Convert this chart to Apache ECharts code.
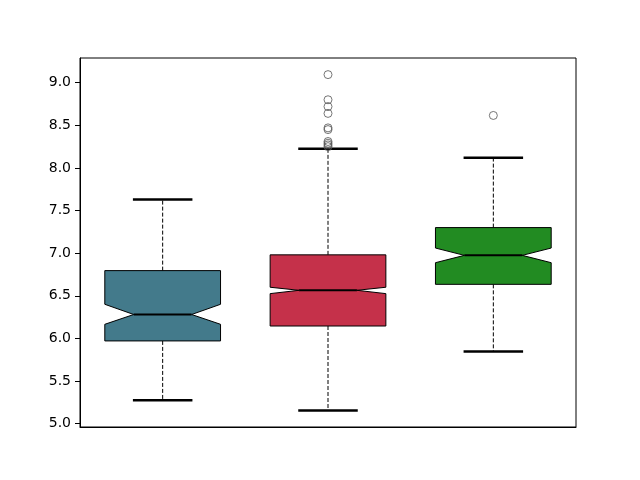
<!DOCTYPE html>
<html>
<head>
<meta charset="utf-8">
<script src="https://cdn.jsdelivr.net/npm/echarts@6/dist/echarts.min.js"></script>
<style>
  html, body { margin: 0; padding: 0; background: #fff; }
  #chart { width: 640px; height: 480px; }
</style>
</head>
<body>
<div id="chart"></div>
<script>
// three groups, no tick labels on x
const categories = ['1', '2', '3'];
const whiskerLow = [5.273, 5.153, 5.847];
const q1 = [5.97, 6.145, 6.634];
const notchLow = [6.165, 6.525, 6.888];
const medians = [6.28, 6.564, 6.974];
const notchHigh = [6.40, 6.60, 7.06];
const q3 = [6.795, 6.98, 7.30];
const whiskerHigh = [7.63, 8.225, 8.12];
const outliers = [
  [],
  [9.095, 8.80, 8.72, 8.64, 8.47, 8.45, 8.31, 8.29, 8.27, 8.25],
  [8.616]
];
const yTicks = [5.0, 5.5, 6.0, 6.5, 7.0, 7.5, 8.0, 8.5, 9.0];
const boxColors = ['#437a8b', '#c5314a', '#228b22'];

const boxData = categories.map((c, i) => [
  i, whiskerLow[i], q1[i], notchLow[i], medians[i], notchHigh[i], q3[i], whiskerHigh[i]
]);
const outlierData = [];
outliers.forEach((vals, i) => vals.forEach(v => outlierData.push([i, v])));

const chart = echarts.init(document.getElementById('chart'));

function renderBox(params, api) {
  const idx = api.value(0);
  const y = v => api.coord([idx, v])[1];
  const cx = api.coord([idx, api.value(4)])[0];
  const band = api.size([1, 0])[0];
  const hw = band * 0.35;   // half box width
  const nw = band * 0.175;  // half width at the notch
  const cw = band * 0.18;   // half cap width
  const yMin = y(api.value(1)), yQ1 = y(api.value(2)), yNl = y(api.value(3));
  const yMed = y(api.value(4)), yNh = y(api.value(5)), yQ3 = y(api.value(6));
  const yMax = y(api.value(7));
  const L = cx - hw, R = cx + hw;
  const dash = { stroke: '#000', lineWidth: 1, lineDash: [4, 2] };
  const solid = w => ({ stroke: '#000', lineWidth: w });
  return {
    type: 'group',
    children: [
      { type: 'line', shape: { x1: cx, y1: yQ3, x2: cx, y2: yMax }, style: dash },
      { type: 'line', shape: { x1: cx, y1: yQ1, x2: cx, y2: yMin }, style: dash },
      { type: 'line', shape: { x1: cx - cw, y1: yMax, x2: cx + cw, y2: yMax }, style: solid(2.5) },
      { type: 'line', shape: { x1: cx - cw, y1: yMin, x2: cx + cw, y2: yMin }, style: solid(2.5) },
      {
        type: 'polygon',
        shape: {
          points: [
            [L, yQ1], [R, yQ1], [R, yNl], [cx + nw, yMed], [R, yNh], [R, yQ3],
            [L, yQ3], [L, yNh], [cx - nw, yMed], [L, yNl]
          ]
        },
        style: { fill: boxColors[idx], stroke: '#000', lineWidth: 1 }
      },
      { type: 'line', shape: { x1: cx - nw, y1: yMed, x2: cx + nw, y2: yMed }, style: solid(2) }
    ]
  };
}

const option = {
  animation: false,
  backgroundColor: '#fff',
  textStyle: { fontFamily: 'DejaVu Sans' },
  grid: {
    left: 80, right: 64, top: 58, bottom: 53,
    show: true, borderColor: '#000', borderWidth: 1, backgroundColor: 'transparent'
  },
  xAxis: {
    type: 'category',
    data: categories,
    boundaryGap: true,
    axisLine: { lineStyle: { color: '#000', width: 1 } },
    axisTick: { alignWithLabel: true, length: 5, lineStyle: { color: '#000' } },
    axisLabel: { show: false },
    splitLine: { show: false }
  },
  yAxis: {
    type: 'value',
    min: 4.96,
    max: 9.29,
    axisLine: { show: true, lineStyle: { color: '#000', width: 1 } },
    axisTick: { show: true, length: 5, customValues: yTicks, lineStyle: { color: '#000' } },
    axisLabel: {
      customValues: yTicks,
      formatter: v => v.toFixed(1),
      color: '#000',
      fontSize: 14,
      margin: 9,
      fontFamily: 'DejaVu Sans'
    },
    splitLine: { show: false }
  },
  series: [
    {
      type: 'custom',
      renderItem: renderBox,
      encode: { x: 0, y: [1, 2, 3, 4, 5, 6, 7] },
      data: boxData,
      z: 2
    },
    {
      type: 'scatter',
      data: outlierData,
      symbol: 'circle',
      symbolSize: 8,
      itemStyle: { color: 'rgba(0,0,0,0)', borderColor: '#555', borderWidth: 1 },
      z: 3
    }
  ]
};

chart.setOption(option);
</script>
</body>
</html>
